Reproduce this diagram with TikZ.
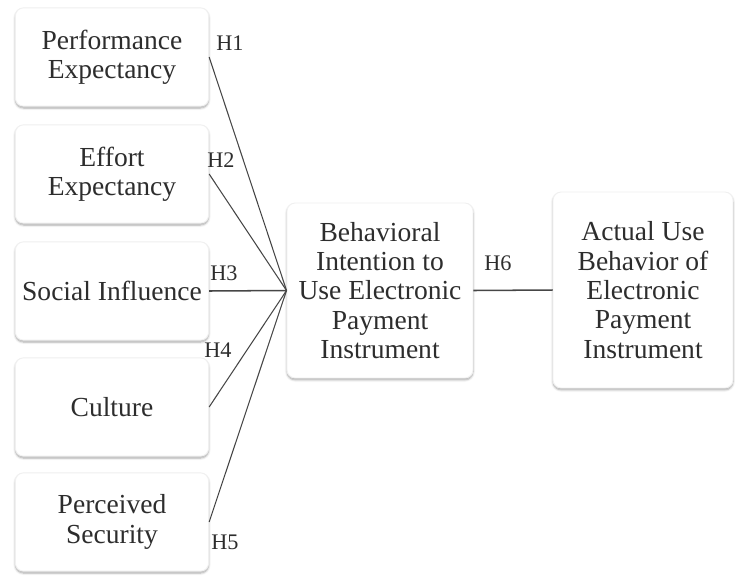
\documentclass[tikz,border=0pt]{standalone}
\usepackage{fontspec}
\setmainfont{Liberation Serif}
\usepackage{tikz}
\usetikzlibrary{positioning,shadows.blur}
\definecolor{boxtext}{RGB}{45,45,45}
\definecolor{linkgray}{RGB}{70,70,70}

\begin{document}
\begin{tikzpicture}[x=0.03cm, y=-0.03cm, thick]
  \tikzstyle{construct} = [rectangle, rounded corners=7pt, draw=gray!12, fill=white, minimum width=5.8cm, minimum height=2.95cm, align=center, inner sep=0pt, text=boxtext, font=\fontsize{23.5}{25}\selectfont, blur shadow={shadow xshift=0pt, shadow yshift=-1.6pt, shadow opacity=35, shadow blur steps=6}]
  \tikzstyle{link} = [draw=linkgray, line width=0.9pt]
  \tikzstyle{hyp} = [font=\fontsize{19}{20}\selectfont, text=boxtext, inner sep=0pt]

  \useasboundingbox (0,0) rectangle (735,578);

  % independent constructs
  \node[construct] (pe) at (112, 57) {Performance\\Expectancy};
  \node[construct] (ee) at (112, 174) {Effort\\Expectancy};
  \node[construct] (si) at (112, 291) {Social Influence};
  \node[construct] (cu) at (112, 407) {Culture};
  \node[construct] (ps) at (112, 522) {Perceived\\Security};

  % intention and use
  \node[construct, minimum width=5.58cm, minimum height=5.25cm] (bi) at (380, 290.5) {Behavioral\\Intention to\\Use Electronic\\Payment\\Instrument};
  \node[construct, minimum width=5.4cm, minimum height=5.88cm] (au) at (643, 290) {Actual Use\\Behavior of\\Electronic\\Payment\\Instrument};

  \draw[link] (pe.east) -- (bi.west);
  \draw[link] (ee.east) -- (bi.west);
  \draw[link, line width=1.3pt] (si.east) -- (bi.west);
  \draw[link] (cu.east) -- (bi.west);
  \draw[link] (ps.east) -- (bi.west);
  \draw[link, line width=1.3pt] (bi.east) -- (au.west);

  \node[hyp] (h1) at (230, 43) {H1};
  \node[hyp] (h2) at (221, 160) {H2};
  \node[hyp] (h3) at (224, 273) {H3};
  \node[hyp] (h4) at (218, 350) {H4};
  \node[hyp] (h5) at (225, 542) {H5};
  \node[hyp] (h6) at (498, 263) {H6};
\end{tikzpicture}
\end{document}
